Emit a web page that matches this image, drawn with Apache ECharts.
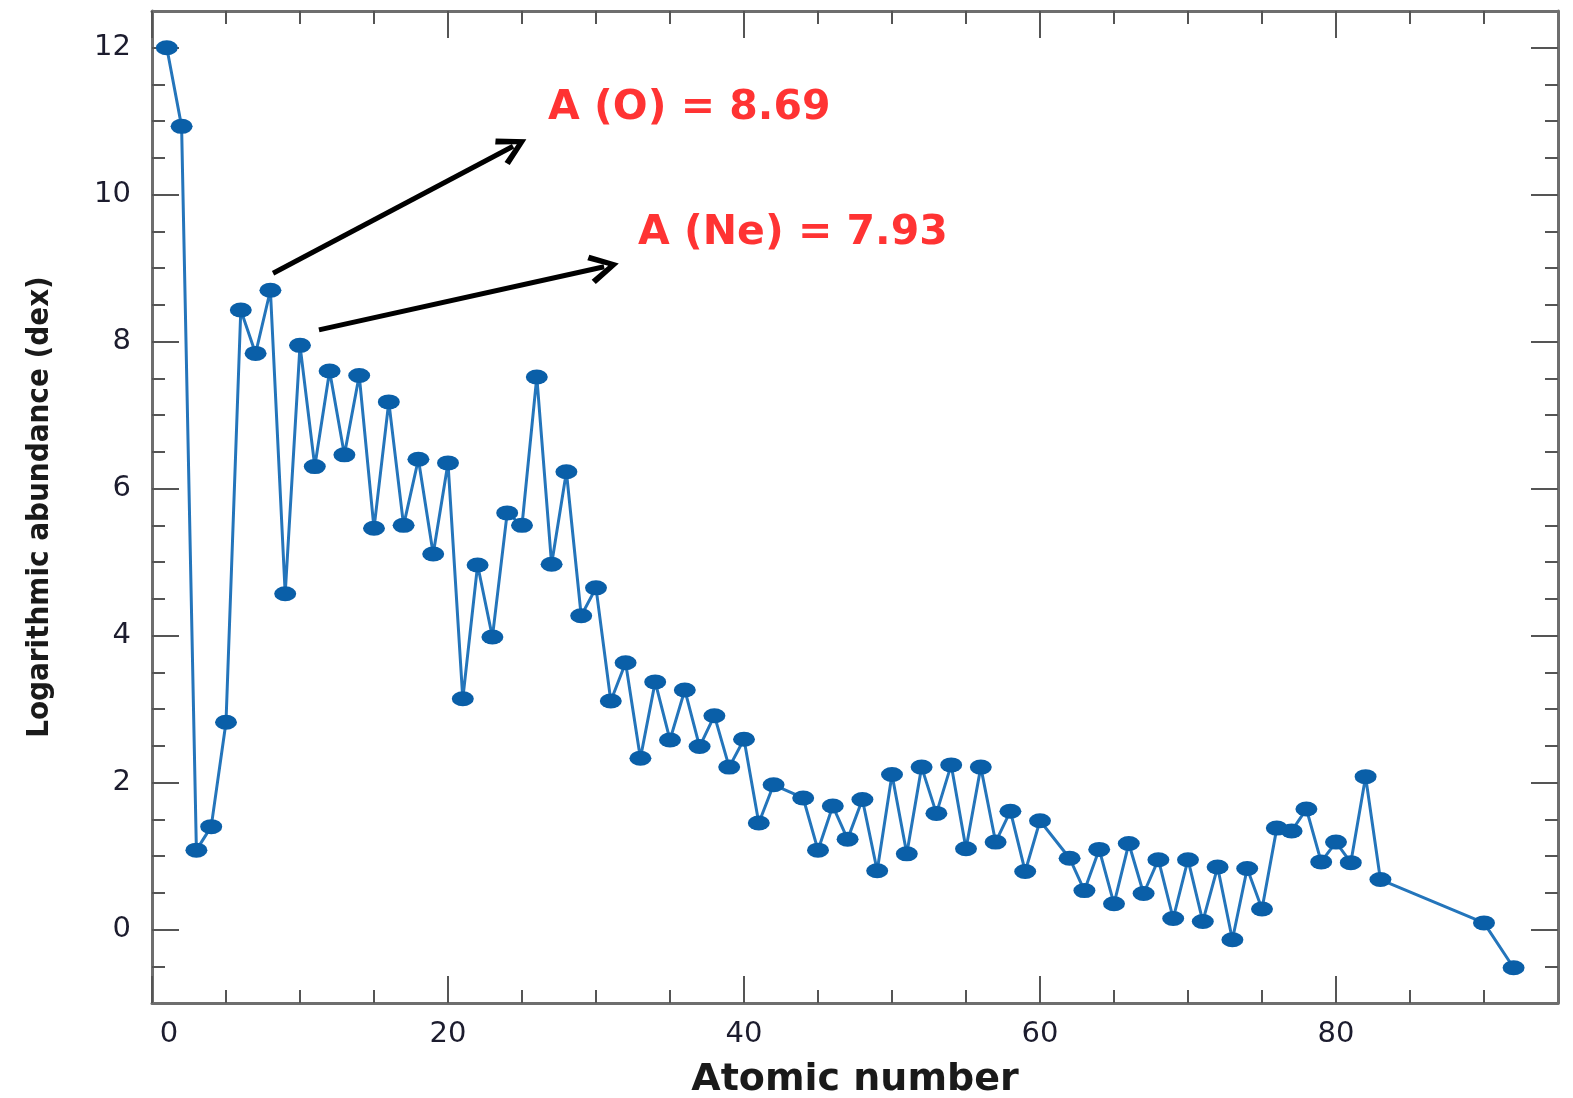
<!DOCTYPE html>
<html><head><meta charset="utf-8">
<script src="https://cdn.jsdelivr.net/npm/echarts@6/dist/echarts.min.js"></script>
<style>html,body{margin:0;padding:0;background:#fff}#c{width:1573px;height:1098px}</style>
</head><body><div id="c"></div>
<script>
// ---- data ----
const atomicNumbers = [1,2,3,4,5,6,7,8,9,10,11,12,13,14,15,16,17,18,19,20,
  21,22,23,24,25,26,27,28,29,30,31,32,33,34,35,36,37,38,39,40,41,42,
  44,45,46,47,48,49,50,51,52,53,54,55,56,57,58,59,60,
  62,63,64,65,66,67,68,69,70,71,72,73,74,75,76,77,78,79,80,81,82,83,
  90,92];
const abundances = [12.00,10.93,1.08,1.40,2.82,8.43,7.84,8.70,4.57,7.95,6.30,7.60,6.46,7.54,5.46,7.18,5.50,6.40,5.11,6.35,
  3.14,4.96,3.98,5.67,5.50,7.52,4.97,6.23,4.27,4.65,3.11,3.63,2.33,3.37,2.58,3.26,2.49,2.91,2.21,2.59,1.45,1.97,
  1.79,1.08,1.68,1.23,1.77,0.80,2.11,1.03,2.21,1.58,2.24,1.10,2.21,1.19,1.61,0.79,1.48,
  0.97,0.53,1.09,0.35,1.17,0.49,0.95,0.15,0.95,0.11,0.85,-0.14,0.83,0.28,1.38,1.34,1.64,0.92,1.19,0.91,2.08,0.68,
  0.09,-0.52];
const xMajorTicks = [0,20,40,60,80];
const xMinorTicks = [5,10,15,25,30,35,45,50,55,65,70,75,85,90];
const yMajorTicks = [0,2,4,6,8,10,12];
const yMinorTicks = [-0.5,0.5,1,1.5,2.5,3,3.5,4.5,5,5.5,6.5,7,7.5,8.5,9,9.5,10.5,11,11.5];
const xLabel = 'Atomic number';
const yLabel = 'Logarithmic abundance (dex)';
const annotationTexts = ['A (O) = 8.69', 'A (Ne) = 7.93'];
const annotationAnchors = [[26.76, 11.18], [32.84, 9.48]];
const arrowStarts = [[8.18, 8.93], [11.28, 8.16]];
const arrowEnds = [[24.40, 10.66], [30.55, 9.02]];

// ---- chart ----
const chevron = 'path://M12,0 L24,21 L20,23.5 L12,8.5 L4,23.5 L0,21 Z';
const axisLineStyle = {color:'#6e6e6e', width:3};
const tickLineStyle = {color:'#555555', width:2};
const labelFont = {fontFamily:'DejaVu Sans', fontSize:29, color:'#1c1c2e'};

function xAxisDef(pos, major, withLabel) {
  return {
    type:'value', position:pos, min:0, max:95,
    axisLine:{show:major, onZero:false, lineStyle:axisLineStyle},
    axisTick:{show:true, inside:true, length: major ? 27 : 13,
      customValues: major ? xMajorTicks : xMinorTicks, lineStyle:tickLineStyle},
    axisLabel: withLabel ? Object.assign({show:true, margin:17, customValues:xMajorTicks,
      formatter: v => v === 0 ? '{z|0}' : String(v),
      rich:{z:Object.assign({padding:[0,0,0,34]}, labelFont)}}, labelFont) : {show:false},
    splitLine:{show:false},
    name: withLabel ? xLabel : '', nameLocation:'middle', nameGap:58,
    nameTextStyle:{fontFamily:'DejaVu Sans', fontWeight:'bold', fontSize:38, color:'#1a1a1a'}
  };
}
function yAxisDef(pos, major, withLabel) {
  return {
    type:'value', position:pos, min:-1, max:12.5,
    axisLine:{show:major, onZero:false, lineStyle:axisLineStyle},
    axisTick:{show:true, inside:true, length: major ? 27 : 13,
      customValues: major ? yMajorTicks : yMinorTicks, lineStyle:tickLineStyle},
    axisLabel: withLabel ? Object.assign({show:true, margin:21, customValues:yMajorTicks}, labelFont) : {show:false},
    splitLine:{show:false},
    name: withLabel ? yLabel : '', nameLocation:'middle', nameGap:97,
    nameTextStyle:{fontFamily:'DejaVu Sans Condensed, Liberation Sans Narrow, DejaVu Sans', fontWeight:'bold', fontSize:31, color:'#1a1a1a'}
  };
}

const chart = echarts.init(document.getElementById('c'), null, {renderer:'canvas'});
chart.setOption({
  animation:false,
  backgroundColor:'#ffffff',
  grid:{left:152, right:15, top:11, bottom:95, containLabel:false, outerBoundsMode:'none'},
  xAxis:[xAxisDef('bottom', true, true), xAxisDef('bottom', false, false),
         xAxisDef('top', true, false), xAxisDef('top', false, false)],
  yAxis:[yAxisDef('left', true, true), yAxisDef('left', false, false),
         yAxisDef('right', true, false), yAxisDef('right', false, false)],
  series:[
    {
      type:'line', xAxisIndex:0, yAxisIndex:0,
      data: atomicNumbers.map((z, i) => [z, abundances[i]]),
      symbol:'circle', symbolSize:[22,15],
      itemStyle:{color:'#0a5fa8'},
      lineStyle:{color:'#2475bb', width:3},
      markLine:{
        silent:true,
        symbol:['none', chevron], symbolSize:30,
        lineStyle:{color:'#000000', width:5, type:'solid'},
        itemStyle:{color:'#000000'},
        label:{show:false},
        data: arrowStarts.map((s, i) => [{coord:s}, {coord:arrowEnds[i]}])
      }
    },
    {
      type:'scatter', xAxisIndex:0, yAxisIndex:0, symbolSize:0, silent:true,
      data: annotationTexts.map((t, i) => ({name:t, value:annotationAnchors[i]})),
      label:{show:true, position:'right', distance:0, formatter:'{b}',
        fontFamily:'DejaVu Sans', fontWeight:'bold', fontSize:41, color:'#ff0000'}
    }
  ]
});
</script>
</body></html>
